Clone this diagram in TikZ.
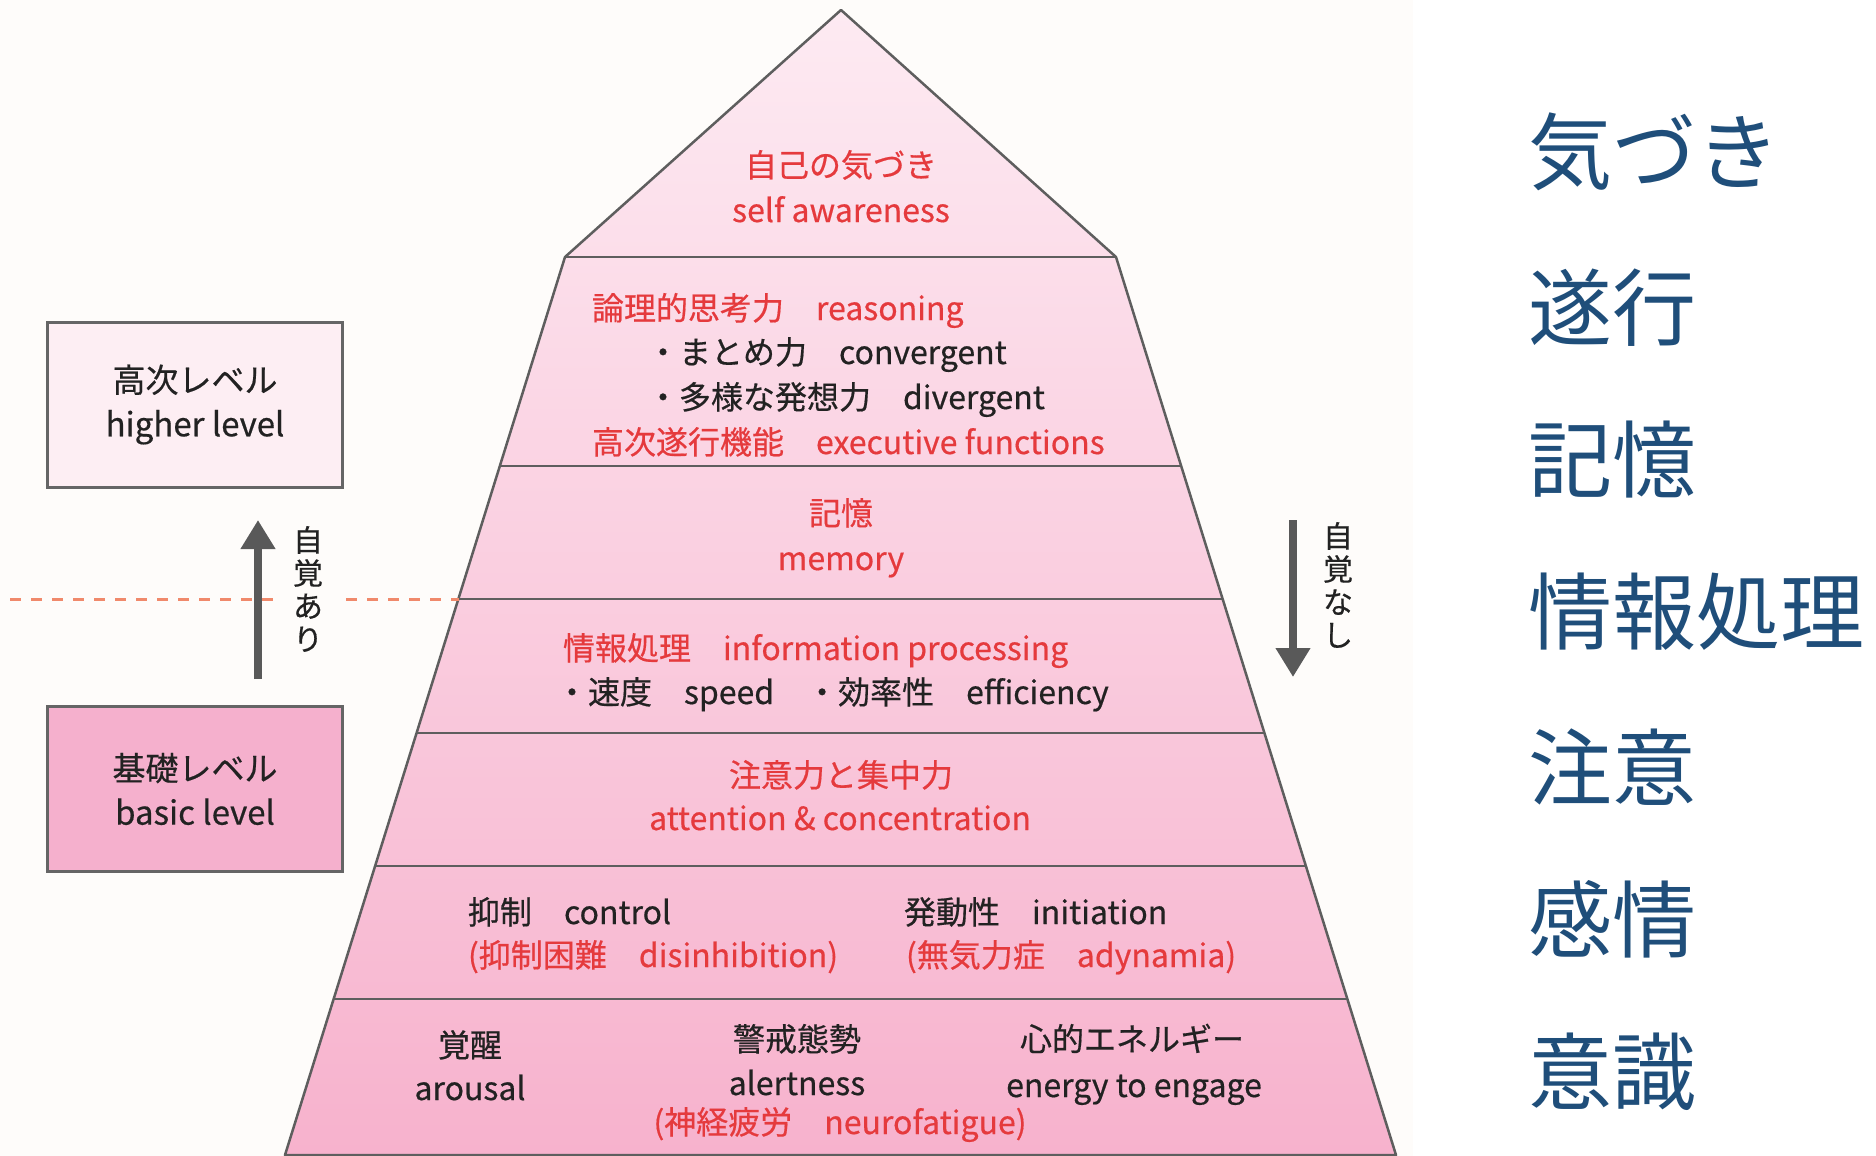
\documentclass[tikz,border=0pt]{standalone}
\usepackage{fontspec}
\setmainfont{Noto Sans CJK JP}
\newfontfamily\pyrfont[FakeBold=0.5]{Noto Sans CJK JP}
\usetikzlibrary{arrows.meta}
\definecolor{bg}{HTML}{FEFCFA}
\definecolor{redt}{HTML}{E53A3D}
\definecolor{blackt}{HTML}{222222}
\definecolor{lineg}{HTML}{5E5E5E}
\definecolor{boxg}{HTML}{656565}
\definecolor{pinkTop}{HTML}{FDEAF2}
\definecolor{pinkBot}{HTML}{F7B2CD}
\definecolor{hiBox}{HTML}{FDEEF3}
\definecolor{loBox}{HTML}{F5B0CD}
\definecolor{blueL}{HTML}{1F4E7A}
\definecolor{dashc}{HTML}{F0896B}
\definecolor{arrowg}{HTML}{595959}
\begin{document}
\begin{tikzpicture}[x=1pt,y=-1pt,
  every node/.style={inner sep=0pt, outer sep=0pt},
  pyr/.style={font=\pyrfont\fontsize{32}{44}\selectfont, text height=28pt, text depth=4pt},
  ptred/.style={pyr, text=redt},
  ptblk/.style={pyr, text=blackt},
  lvlbox/.style={draw=boxg, line width=3pt, align=center, text=blackt,
    font=\pyrfont\fontsize{33}{44}\selectfont, minimum width=295pt, minimum height=165pt},
  vtxt/.style={font=\pyrfont\fontsize{30}{33}\selectfont, text=blackt, align=center, fill=bg, minimum width=62pt},
  rlab/.style={font=\fontsize{84}{90}\selectfont, text=blueL, anchor=west, text height=66pt, text depth=2pt},
  bigarrow/.style={draw=arrowg, line width=8pt, -{Triangle[length=29pt,width=33pt]}},
  pline/.style={draw=lineg, line width=2.5pt, line join=round},
]
% canvas
\fill[white] (0,0) rectangle (1876,1156);
\fill[bg] (0,0) rectangle (1413,1156);
\useasboundingbox (0,0) rectangle (1876,1156);

% pyramid geometry
\coordinate (apex) at (841,10);
\coordinate (l1l) at (565,257);   \coordinate (l1r) at (1116,257);
\coordinate (l2l) at (500,466);   \coordinate (l2r) at (1181,466);
\coordinate (l3l) at (458.5,599); \coordinate (l3r) at (1222.5,599);
\coordinate (l4l) at (416.7,733); \coordinate (l4r) at (1264.3,733);
\coordinate (l5l) at (375.3,866); \coordinate (l5r) at (1305.7,866);
\coordinate (l6l) at (333.9,999); \coordinate (l6r) at (1347.1,999);
\coordinate (bl) at (285,1155);   \coordinate (br) at (1396,1155);

\shade[top color=pinkTop, bottom color=pinkBot]
  (apex) -- (l1r) -- (br) -- (bl) -- (l1l) -- cycle;
\draw[pline] (apex) -- (l1r) -- (br) -- (bl) -- (l1l) -- cycle;
\foreach \n in {1,...,6} { \draw[pline] (l\n l) -- (l\n r); }

% dashed boundary
\coordinate (dstart) at (10,599);
\draw[dashc, line width=3pt, dash pattern=on 11pt off 10pt] (dstart) -- (l3l);

% level boxes
\node[lvlbox, fill=hiBox] (hi) at (195,404.5) {高次レベル\\higher level};
\node[lvlbox, fill=loBox] (lo) at (195,789) {基礎レベル\\basic level};

% arrows
\coordinate (ua1) at (258,679); \coordinate (ua2) at (258,520);
\draw[bigarrow] (ua1) -- (ua2);
\coordinate (da1) at (1293,520); \coordinate (da2) at (1293,677);
\draw[bigarrow] (da1) -- (da2);
\node[vtxt] (aware) at (308,589) {自\\覚\\あ\\り};
\node[vtxt, fill=none] (unaware) at (1338,585) {自\\覚\\な\\し};

% pyramid texts
\node[ptred] (t1a) at (841,165) {自己の気づき};
\node[ptred] (t1b) at (841,210) {self awareness};

\node[ptred, anchor=west] (t2a) at (592,308) {論理的思考力　reasoning};
\node[ptblk, anchor=west] (t2b) at (647,352) {・まとめ力　convergent};
\node[ptblk, anchor=west] (t2c) at (647,397) {・多様な発想力　divergent};
\node[ptred, anchor=west] (t2d) at (592,442) {高次遂行機能　executive functions};

\node[ptred] (t3a) at (841,513) {記憶};
\node[ptred] (t3b) at (841,558) {memory};

\node[ptred, anchor=west] (t4a) at (563,648) {情報処理　information processing};
\node[ptblk, anchor=west] (t4b) at (556,692) {・速度　speed　・効率性　efficiency};

\node[ptred] (t5a) at (841,775) {注意力と集中力};
\node[ptred] (t5b) at (840,818) {attention \& concentration};

\node[ptblk, anchor=west] (t6a) at (468,912) {抑制　control};
\node[ptred, anchor=west] (t6b) at (468,955) {(抑制困難　disinhibition)};
\node[ptblk, anchor=west] (t6c) at (904,912) {発動性　initiation};
\node[ptred, anchor=west] (t6d) at (906,955) {(無気力症　adynamia)};

\node[ptblk] (t7a) at (470,1045) {覚醒};
\node[ptblk] (t7b) at (470,1088) {arousal};
\node[ptblk] (t7c) at (797,1039) {警戒態勢};
\node[ptblk] (t7d) at (797,1083) {alertness};
\node[ptblk] (t7e) at (1132,1039) {心的エネルギー};
\node[ptblk] (t7f) at (1134,1085) {energy to engage};
\node[ptred] (t7g) at (840,1122) {(神経疲労　neurofatigue)};

% right-hand labels
\node[rlab] (r1) at (1528,151) {気づき};
\node[rlab] (r2) at (1528,307) {遂行};
\node[rlab] (r3) at (1528,459) {記憶};
\node[rlab] (r4) at (1528,611) {情報処理};
\node[rlab] (r5) at (1528,767) {注意};
\node[rlab] (r6) at (1528,919) {感情};
\node[rlab] (r7) at (1528,1071) {意識};
\end{tikzpicture}
\end{document}
